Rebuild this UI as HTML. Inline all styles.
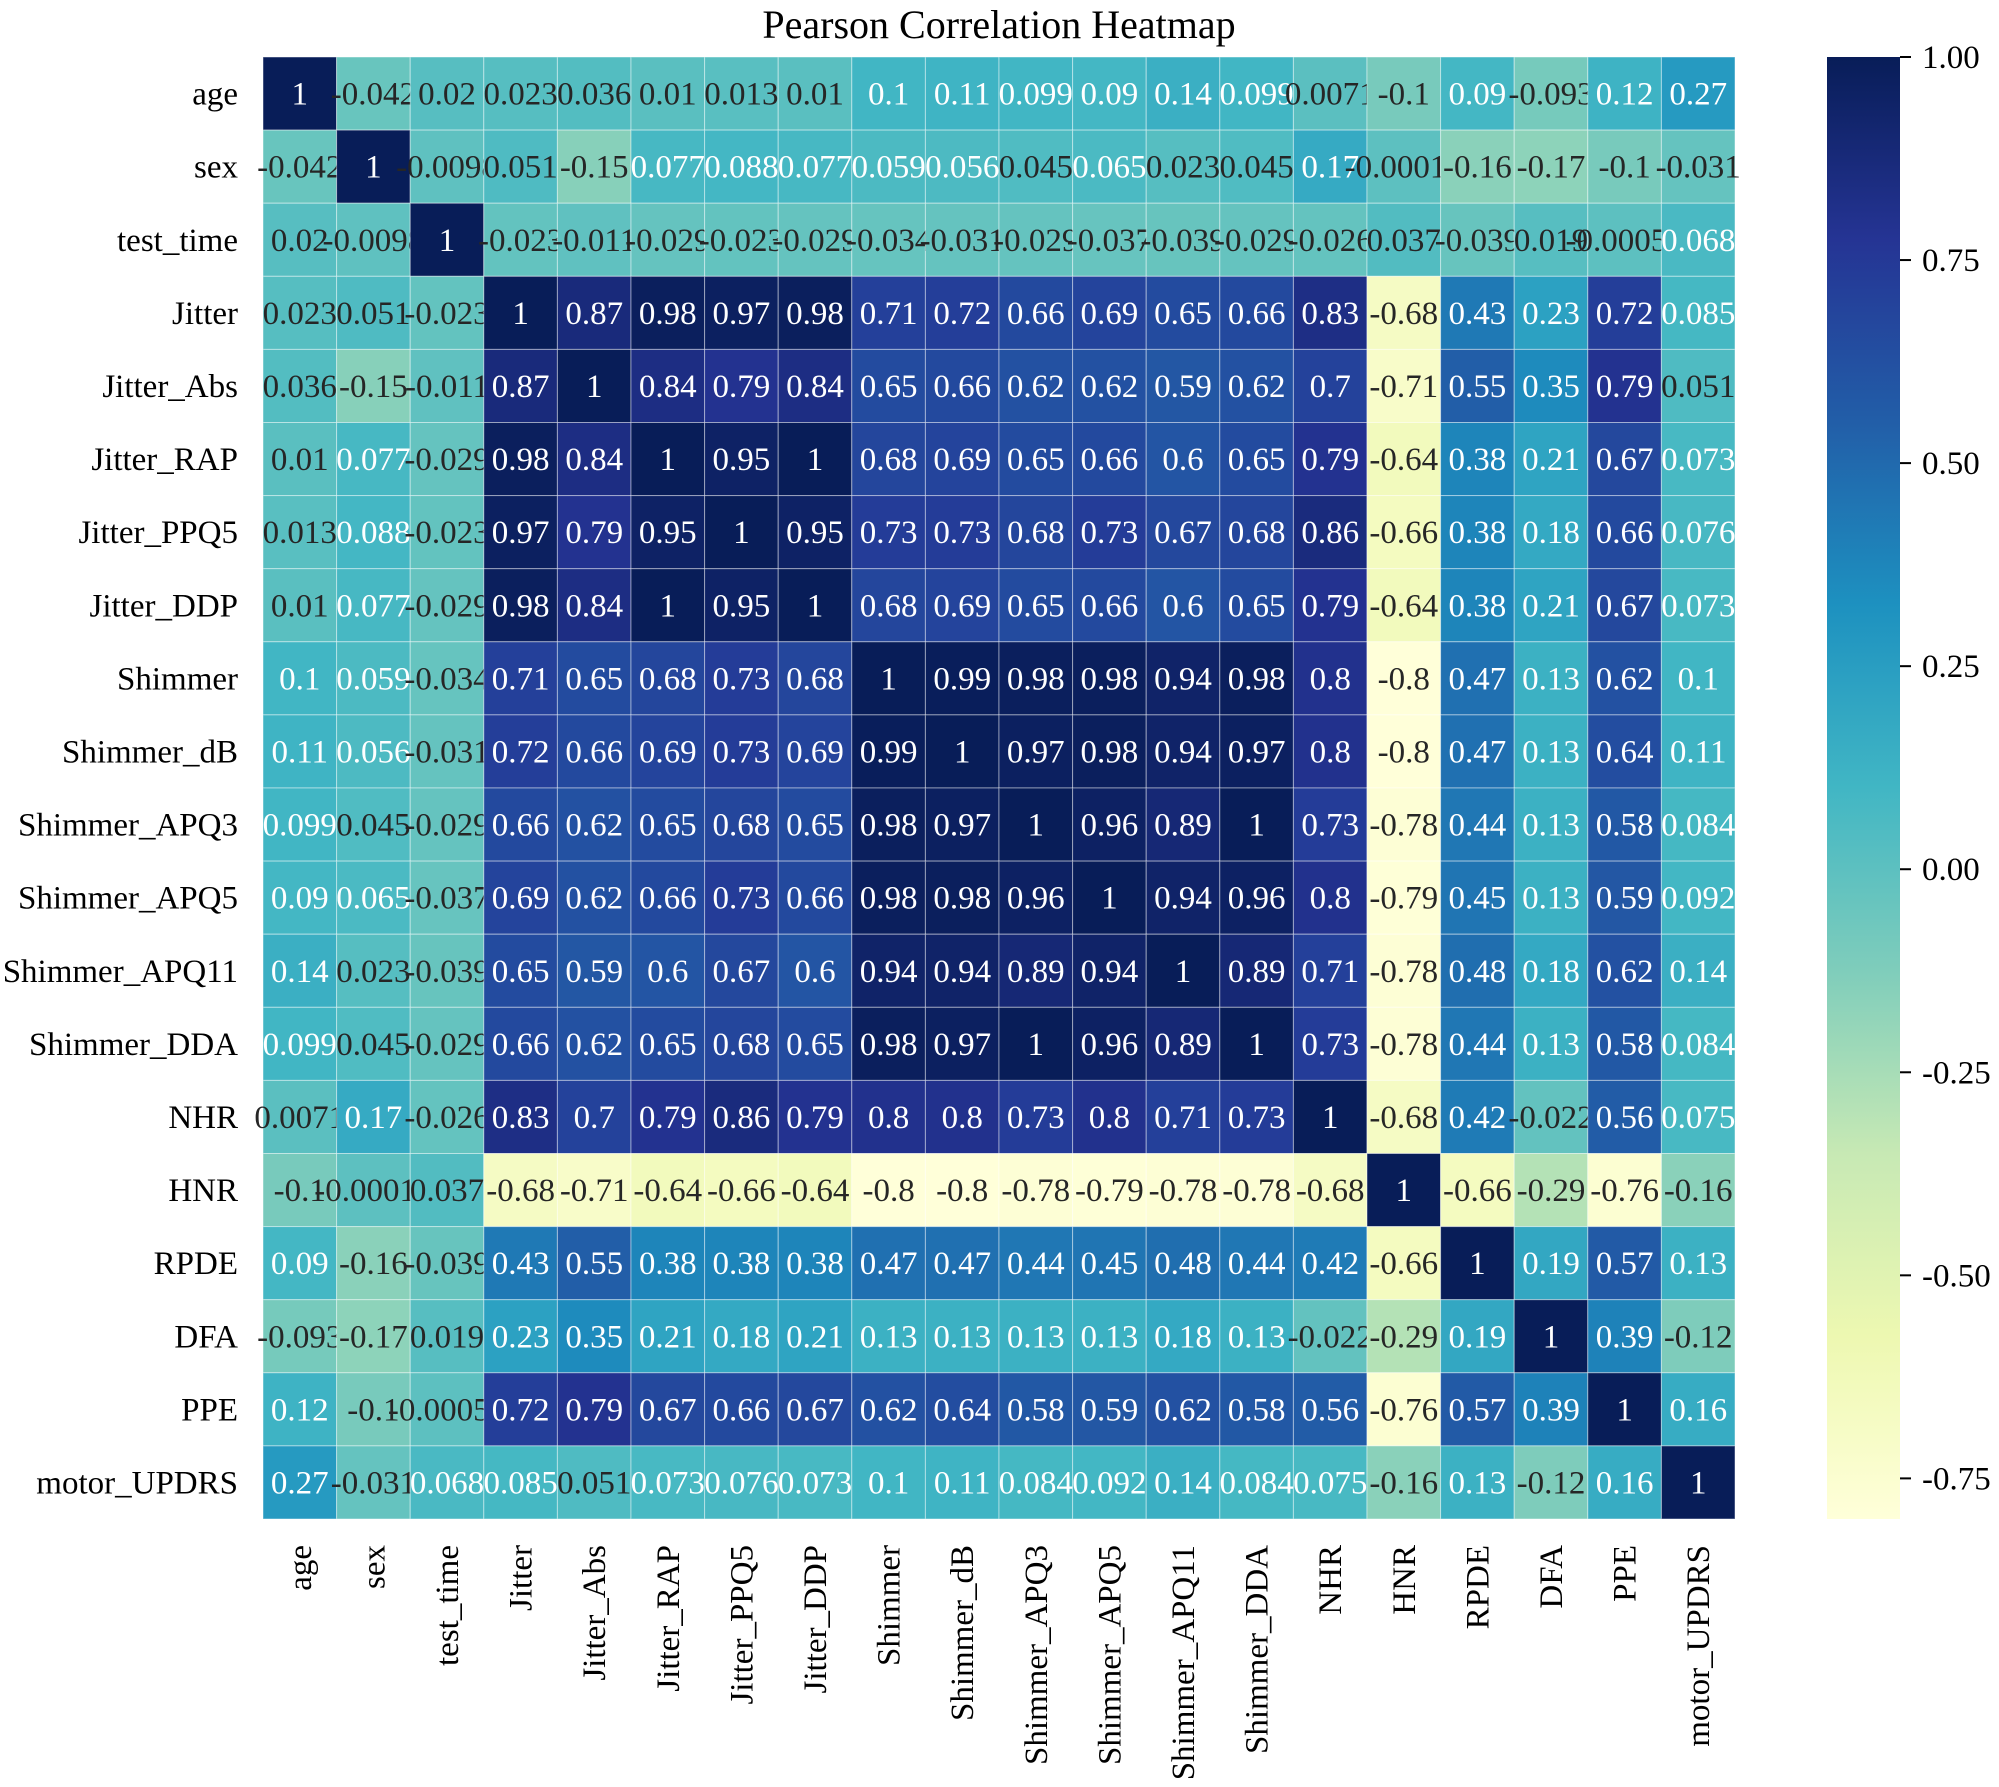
<!DOCTYPE html>
<html><head><meta charset="utf-8"><style>
html,body{margin:0;padding:0;background:#fff;}
svg{display:block;font-family:"Liberation Serif","DejaVu Serif",serif;}
</style></head><body>
<svg id="chart" width="1999" height="1787" viewBox="0 0 1999 1787" xmlns="http://www.w3.org/2000/svg">
<defs>
<linearGradient id="cbgrad" x1="0" y1="1" x2="0" y2="0">
<stop offset="0" stop-color="#ffffd9"/><stop offset="0.125" stop-color="#edf8b1"/><stop offset="0.25" stop-color="#c7e9b4"/><stop offset="0.375" stop-color="#7fcdbb"/><stop offset="0.5" stop-color="#41b6c4"/><stop offset="0.625" stop-color="#1d91c0"/><stop offset="0.75" stop-color="#225ea8"/><stop offset="0.875" stop-color="#253494"/><stop offset="1" stop-color="#081d58"/>
</linearGradient>
</defs>
<text x="999" y="38" font-size="40" text-anchor="middle" fill="#000">Pearson Correlation Heatmap</text>
<g id="cells"></g>
<g id="ylabels"></g>
<g id="xlabels"></g>
<rect x="1827" y="57" width="73" height="1462" fill="url(#cbgrad)"/>
<g id="cbticks"></g>
</svg>
<script>
const labels = ["age","sex","test_time","Jitter","Jitter_Abs","Jitter_RAP","Jitter_PPQ5","Jitter_DDP","Shimmer","Shimmer_dB","Shimmer_APQ3","Shimmer_APQ5","Shimmer_APQ11","Shimmer_DDA","NHR","HNR","RPDE","DFA","PPE","motor_UPDRS"];
const corr = [
[1,-0.042,0.02,0.023,0.036,0.01,0.013,0.01,0.1,0.11,0.099,0.09,0.14,0.099,0.0071,-0.1,0.09,-0.093,0.12,0.27],
[-0.042,1,-0.0098,0.051,-0.15,0.077,0.088,0.077,0.059,0.056,0.045,0.065,0.023,0.045,0.17,-0.00017,-0.16,-0.17,-0.1,-0.031],
[0.02,-0.0098,1,-0.023,-0.011,-0.029,-0.023,-0.029,-0.034,-0.031,-0.029,-0.037,-0.039,-0.029,-0.026,0.037,-0.039,0.019,-0.00056,0.068],
[0.023,0.051,-0.023,1,0.87,0.98,0.97,0.98,0.71,0.72,0.66,0.69,0.65,0.66,0.83,-0.68,0.43,0.23,0.72,0.085],
[0.036,-0.15,-0.011,0.87,1,0.84,0.79,0.84,0.65,0.66,0.62,0.62,0.59,0.62,0.7,-0.71,0.55,0.35,0.79,0.051],
[0.01,0.077,-0.029,0.98,0.84,1,0.95,1,0.68,0.69,0.65,0.66,0.6,0.65,0.79,-0.64,0.38,0.21,0.67,0.073],
[0.013,0.088,-0.023,0.97,0.79,0.95,1,0.95,0.73,0.73,0.68,0.73,0.67,0.68,0.86,-0.66,0.38,0.18,0.66,0.076],
[0.01,0.077,-0.029,0.98,0.84,1,0.95,1,0.68,0.69,0.65,0.66,0.6,0.65,0.79,-0.64,0.38,0.21,0.67,0.073],
[0.1,0.059,-0.034,0.71,0.65,0.68,0.73,0.68,1,0.99,0.98,0.98,0.94,0.98,0.8,-0.8,0.47,0.13,0.62,0.1],
[0.11,0.056,-0.031,0.72,0.66,0.69,0.73,0.69,0.99,1,0.97,0.98,0.94,0.97,0.8,-0.8,0.47,0.13,0.64,0.11],
[0.099,0.045,-0.029,0.66,0.62,0.65,0.68,0.65,0.98,0.97,1,0.96,0.89,1,0.73,-0.78,0.44,0.13,0.58,0.084],
[0.09,0.065,-0.037,0.69,0.62,0.66,0.73,0.66,0.98,0.98,0.96,1,0.94,0.96,0.8,-0.79,0.45,0.13,0.59,0.092],
[0.14,0.023,-0.039,0.65,0.59,0.6,0.67,0.6,0.94,0.94,0.89,0.94,1,0.89,0.71,-0.78,0.48,0.18,0.62,0.14],
[0.099,0.045,-0.029,0.66,0.62,0.65,0.68,0.65,0.98,0.97,1,0.96,0.89,1,0.73,-0.78,0.44,0.13,0.58,0.084],
[0.0071,0.17,-0.026,0.83,0.7,0.79,0.86,0.79,0.8,0.8,0.73,0.8,0.71,0.73,1,-0.68,0.42,-0.022,0.56,0.075],
[-0.1,-0.00017,0.037,-0.68,-0.71,-0.64,-0.66,-0.64,-0.8,-0.8,-0.78,-0.79,-0.78,-0.78,-0.68,1,-0.66,-0.29,-0.76,-0.16],
[0.09,-0.16,-0.039,0.43,0.55,0.38,0.38,0.38,0.47,0.47,0.44,0.45,0.48,0.44,0.42,-0.66,1,0.19,0.57,0.13],
[-0.093,-0.17,0.019,0.23,0.35,0.21,0.18,0.21,0.13,0.13,0.13,0.13,0.18,0.13,-0.022,-0.29,0.19,1,0.39,-0.12],
[0.12,-0.1,-0.00056,0.72,0.79,0.67,0.66,0.67,0.62,0.64,0.58,0.59,0.62,0.58,0.56,-0.76,0.57,0.39,1,0.16],
[0.27,-0.031,0.068,0.085,0.051,0.073,0.076,0.073,0.1,0.11,0.084,0.092,0.14,0.084,0.075,-0.16,0.13,-0.12,0.16,1]
];
const cbTicks = [1.00,0.75,0.50,0.25,0.00,-0.25,-0.50,-0.75];
const vmin = -0.8, vmax = 1.0;

const NS = "http://www.w3.org/2000/svg";
const L = 263, R = 1735, T = 57, B = 1519;
const FS = 33;
const n = labels.length;
const cw = (R - L) / n, ch = (B - T) / n;
const xPos = i => L + i * cw;
const yPos = j => T + j * ch;
const cbY = v => B - (v - vmin) / (vmax - vmin) * (B - T);
const stops = ["#ffffd9","#edf8b1","#c7e9b4","#7fcdbb","#41b6c4","#1d91c0","#225ea8","#253494","#081d58"].map(h=>[parseInt(h.slice(1,3),16),parseInt(h.slice(3,5),16),parseInt(h.slice(5,7),16)]);
function cmap(v){
  let t = Math.max(0, Math.min(1, (v - vmin) / (vmax - vmin))) * (stops.length - 1);
  let i = Math.min(stops.length - 2, Math.floor(t)), f = t - i;
  return stops[i].map((c,k)=>Math.round(c + (stops[i+1][k]-c)*f));
}
function lum(rgb){
  const c = rgb.map(x=>{x/=255;return x<=0.03928?x/12.92:Math.pow((x+0.055)/1.055,2.4);});
  return 0.2126*c[0]+0.7152*c[1]+0.0722*c[2];
}
function fmt(v){ return String(Number(v.toPrecision(2))); }
function mk(tag, attrs, parent){ const e=document.createElementNS(NS,tag); for(const k in attrs) e.setAttribute(k,attrs[k]); parent.appendChild(e); return e; }

const cells = document.getElementById('cells');
for (let r = 0; r < n; r++) {
  for (let c = 0; c < n; c++) {
    const v = corr[r][c];
    const rgb = cmap(v);
    const rect = mk('rect', {x:xPos(c), y:yPos(r), width:cw, height:ch, fill:`rgb(${rgb.join(',')})`, stroke:'rgba(255,255,255,0.45)', 'stroke-width':1}, cells);
    
    
    const t = mk('text', {x:xPos(c)+cw/2, y:yPos(r)+ch/2+11, 'font-size':FS, 'text-anchor':'middle', fill: lum(rgb) > 0.408 ? '#262626' : '#ffffff'}, cells);
    t.textContent = fmt(v);
    
    
  }
}
const yl = document.getElementById('ylabels');
const xl = document.getElementById('xlabels');
labels.forEach((lab, i) => {
  const t = mk('text', {x:238, y:yPos(i)+ch/2+11, 'font-size':FS, 'text-anchor':'end', fill:'#000'}, yl);
  t.textContent = lab;
  
  
  const cx = xPos(i)+cw/2 + 11;
  const t2 = mk('text', {x:cx, y:1545, 'font-size':FS, 'text-anchor':'end', fill:'#000', transform:`rotate(-90 ${cx} 1545)`}, xl);
  t2.textContent = lab;
  
  
});
const cbt = document.getElementById('cbticks');
cbTicks.forEach(v => {
  const y = cbY(v);
  const ln = mk('line', {x1:1900, x2:1911, y1:y, y2:y, stroke:'#000', 'stroke-width':2}, cbt);
  
  
  const t = mk('text', {x:1922, y:y+11, 'font-size':FS, fill:'#000'}, cbt);
  t.textContent = v.toFixed(2);
  
  
});
</script>
</body></html>
